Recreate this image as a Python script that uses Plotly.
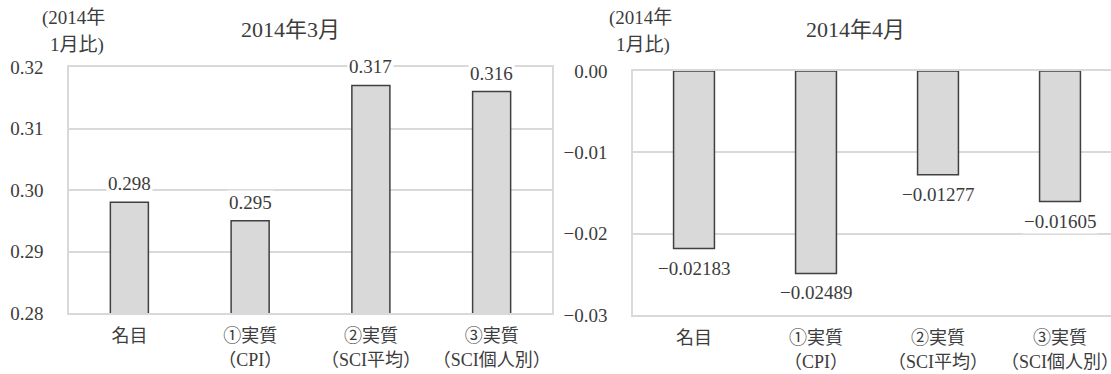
import plotly.graph_objects as go

categories = ["名目", "①実質<br>（CPI）", "②実質<br>（SCI平均）", "③実質<br>（SCI個人別）"]
march_values = [0.298, 0.295, 0.317, 0.316]
april_values = [-0.02183, -0.02489, -0.01277, -0.01605]
march_labels = ["0.298", "0.295", "0.317", "0.316"]
april_labels = ["−0.02183", "−0.02489", "−0.01277", "−0.01605"]
titles = ["2014年3月", "2014年4月"]
unit_line1 = "(2014年"
unit_line2 = "1月比)"

FONT = "Liberation Serif, 'Noto Sans CJK JP', serif"
TXT = "#3c3c3c"
GRID = "#d9d9d9"

fig = go.Figure()
x_idx = list(range(len(categories)))

fig.add_trace(go.Bar(x=x_idx, y=march_values, width=0.315, xaxis="x", yaxis="y",
                     marker=dict(color="#d9d9d9", line=dict(color="#404040", width=1.5)),
                     showlegend=False, hoverinfo="skip"))
fig.add_trace(go.Bar(x=x_idx, y=april_values, width=0.335, xaxis="x2", yaxis="y2",
                     marker=dict(color="#d9d9d9", line=dict(color="#404040", width=1.5)),
                     showlegend=False, hoverinfo="skip"))

annotations = []
for i, (v, t) in enumerate(zip(march_values, march_labels)):
    annotations.append(dict(x=i, y=v, xref="x", yref="y", text=t, showarrow=False,
                            yanchor="bottom", yshift=6, bgcolor="white",
                            font=dict(family=FONT, size=19, color=TXT)))
for i, (v, t) in enumerate(zip(april_values, april_labels)):
    annotations.append(dict(x=i, y=v, xref="x2", yref="y2", text=t, showarrow=False,
                            yanchor="top", yshift=-7, bgcolor="white",
                            font=dict(family=FONT, size=19, color=TXT)))
# titles
for xc, t in [(290, titles[0]), (855, titles[1])]:
    annotations.append(dict(x=xc / 1111, y=1 - 30 / 374, xref="paper", yref="paper", text=t,
                            showarrow=False, xanchor="center", yanchor="middle",
                            font=dict(family=FONT, size=22, color=TXT)))
# unit labels
for x1, x2 in [(73, 77), (640, 643)]:
    annotations.append(dict(x=x1 / 1111, y=1 - 18 / 374, xref="paper", yref="paper", text=unit_line1,
                            showarrow=False, xanchor="center", yanchor="middle",
                            font=dict(family=FONT, size=19, color=TXT)))
    annotations.append(dict(x=x2 / 1111, y=1 - 45 / 374, xref="paper", yref="paper", text=unit_line2,
                            showarrow=False, xanchor="center", yanchor="middle",
                            font=dict(family=FONT, size=19, color=TXT)))

xaxis_common = dict(tickmode="array", tickvals=x_idx, ticktext=categories, showgrid=False,
                    zeroline=False, showline=True, linecolor=GRID, linewidth=1.5,
                    ticks="", ticklabelstandoff=6, ticklabeloverflow="allow", automargin=False,
                    tickfont=dict(family=FONT, size=18, color=TXT))
yaxis_common = dict(dtick=0.01, tickformat=".2f", showgrid=True, gridcolor=GRID, gridwidth=1.5,
                    zeroline=False, showline=True, linecolor=GRID, linewidth=1.5,
                    ticks="", ticklabelstandoff=20, automargin=False,
                    tickfont=dict(family=FONT, size=19, color=TXT))

fig.update_layout(
    width=1111, height=374,
    margin=dict(l=0, r=0, t=0, b=0, autoexpand=False),
    paper_bgcolor="white", plot_bgcolor="white",
    xaxis=dict(domain=[69 / 1111, 552 / 1111], range=[-0.5, 3.5], mirror=True, anchor="y", **xaxis_common),
    yaxis=dict(domain=[61 / 374, 307 / 374], range=[0.28, 0.32], mirror=True, anchor="x", **yaxis_common),
    xaxis2=dict(domain=[633 / 1111, 1.0], range=[-0.5, 3.418], mirror=True, anchor="y2", **xaxis_common),
    yaxis2=dict(domain=[59 / 374, 303 / 374], range=[-0.03, 0.0], anchor="x2", **yaxis_common),
    annotations=annotations,
    bargap=0.68,
)

fig.write_html("out.html")
